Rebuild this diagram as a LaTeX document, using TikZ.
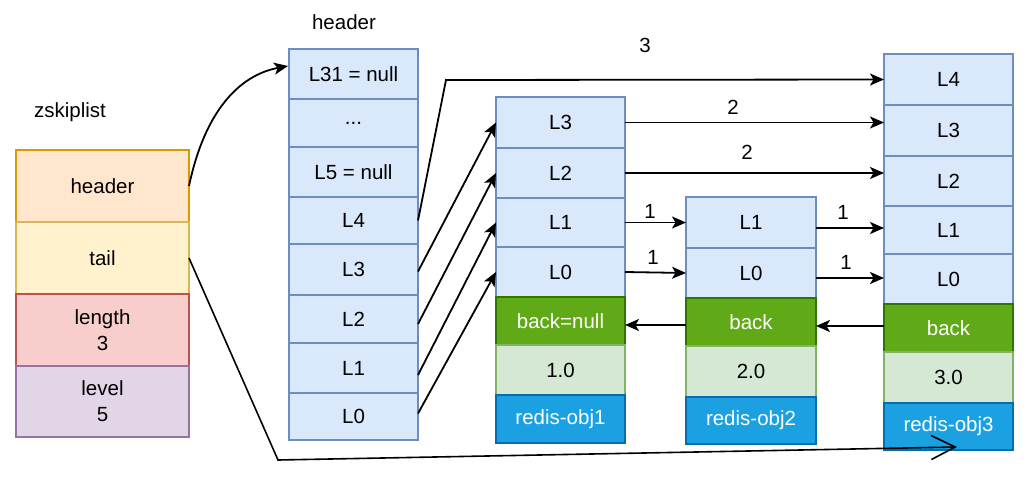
\documentclass[tikz,border=0pt]{standalone}
\usepackage{fontspec}
\setmainfont{Liberation Sans}
\usetikzlibrary{arrows.meta,calc}
\definecolor{hdrF}{HTML}{FFE6CC}\definecolor{hdrD}{HTML}{D79B00}
\definecolor{tailF}{HTML}{FFF2CC}\definecolor{tailD}{HTML}{D6B656}
\definecolor{lenF}{HTML}{F8CECC}\definecolor{lenD}{HTML}{B85450}
\definecolor{lvlF}{HTML}{E1D5E7}\definecolor{lvlD}{HTML}{9673A6}
\definecolor{levF}{HTML}{DAE8FC}\definecolor{levD}{HTML}{6C8EBF}
\definecolor{backF}{HTML}{60A917}\definecolor{backD}{HTML}{2D7600}
\definecolor{valF}{HTML}{D5E8D4}\definecolor{valD}{HTML}{82B366}
\definecolor{objF}{HTML}{1BA1E2}\definecolor{objD}{HTML}{006EAF}
\tikzset{
  cell/.style={draw, line width=1.5pt, inner sep=0pt, outer sep=0pt, align=center,
    font=\fontsize{20.5}{24}\selectfont},
  zhdr/.style={cell, fill=hdrF, draw=hdrD, minimum width=173pt, minimum height=72pt},
  ztail/.style={cell, fill=tailF, draw=tailD, minimum width=173pt, minimum height=72pt},
  zlen/.style={cell, fill=lenF, draw=lenD, minimum width=173pt, minimum height=72pt},
  zlvl/.style={cell, fill=lvlF, draw=lvlD, minimum width=173pt, minimum height=71pt},
  lev/.style={cell, fill=levF, draw=levD},
  backc/.style={cell, fill=backF, draw=backD, text=white},
  valc/.style={cell, fill=valF, draw=valD},
  objc/.style={cell, fill=objF, draw=objD, text=white},
  lbl/.style={inner sep=0pt, font=\fontsize{20.5}{24}\selectfont},
  arr/.style={draw, line width=1.8pt, -{Stealth[length=14pt,width=12pt,inset=3.5pt]}},
}
\begin{document}
\begin{tikzpicture}[x=1pt,y=-1pt]
\useasboundingbox (0,0) rectangle (1033,482);
% labels
\node[lbl] (lzs) at (70,112) {zskiplist};
\node[lbl] (lhd) at (344,22) {header};
% zskiplist
\node[zhdr]  (zheader) at (102.5,186) {header};
\node[ztail] (ztailn)  at (102.5,258) {tail};
\node[zlen]  (zlength) at (102.5,330) {length\\[2pt]3};
\node[zlvl]  (zlevel)  at (102.5,401.5) {level\\[2pt]5};
% header column
\begin{scope}[every node/.append style={lev, minimum width=129pt}]
\node[minimum height=50pt] (hL31) at (353.5,74) {L31 = null};
\node[minimum height=48pt] (hdots) at (353.5,123) {...};
\node[minimum height=50pt] (hL5) at (353.5,172) {L5 = null};
\node[minimum height=47pt] (hL4) at (353.5,220.5) {L4};
\node[minimum height=51pt] (hL3) at (353.5,269.5) {L3};
\node[minimum height=48pt] (hL2) at (353.5,319) {L2};
\node[minimum height=50pt] (hL1) at (353.5,368) {L1};
\node[minimum height=47pt] (hL0) at (353.5,416.5) {L0};
\end{scope}
% node 1
\begin{scope}[every node/.append style={minimum width=129pt}]
\node[lev, minimum height=51pt] (aL3) at (560.5,122.5) {L3};
\node[lev, minimum height=50pt] (aL2) at (560.5,173) {L2};
\node[lev, minimum height=49pt] (aL1) at (560.5,222.5) {L1};
\node[lev, minimum height=50pt] (aL0) at (560.5,272) {L0};
\node[backc, minimum height=48pt] (aback) at (560.5,321) {back=null};
\node[valc, minimum height=50pt] (aval) at (560.5,370) {1.0};
\node[objc, minimum height=48pt] (aobj) at (560.5,419) {redis-obj1};
\end{scope}
% node 2
\begin{scope}[every node/.append style={minimum width=130pt}]
\node[lev, minimum height=51pt] (bL1) at (751,222.5) {L1};
\node[lev, minimum height=50pt] (bL0) at (751,273) {L0};
\node[backc, minimum height=48pt] (bback) at (751,322) {back};
\node[valc, minimum height=51pt] (bval) at (751,371.5) {2.0};
\node[objc, minimum height=47pt] (bobj) at (751,420.5) {redis-obj2};
\end{scope}
% node 3
\begin{scope}[every node/.append style={minimum width=129pt}]
\node[lev, minimum height=51pt] (cL4) at (948.5,79.5) {L4};
\node[lev, minimum height=51pt] (cL3) at (948.5,130.5) {L3};
\node[lev, minimum height=50pt] (cL2) at (948.5,181) {L2};
\node[lev, minimum height=48pt] (cL1) at (948.5,230) {L1};
\node[lev, minimum height=50pt] (cL0) at (948.5,279) {L0};
\node[backc, minimum height=48pt] (cback) at (948.5,328) {back};
\node[valc, minimum height=51pt] (cval) at (948.5,377.5) {3.0};
\node[objc, minimum height=47pt] (cobj) at (948.5,426.5) {redis-obj3};
\end{scope}
% helper coordinates
\coordinate (l4bend) at (446,80);
\coordinate (tailbend) at (278,460);
\coordinate (tailend) at (957,447);
% connectors
\draw[arr] (zheader.east) .. controls (205,110) and (240,75) .. ($(hL31.west)+(-1,-8)$);
\draw[line width=1.6pt, -{Straight Barb[length=24pt,width=24pt,line width=1.6pt]}]
  (ztailn.east) -- (tailbend) -- (tailend);
\draw[arr] (hL4.east) -- (l4bend) -- (cL4.west);
\draw[arr] ($(hL3.east)+(0,2)$) -- (aL3.west);
\draw[arr] ($(hL2.east)+(0,5)$) -- (aL2.west);
\draw[arr] ($(hL1.east)+(0,7)$) -- (aL1.west);
\draw[arr] ($(hL0.east)+(0,-3)$) -- (aL0.west);
\draw[arr] (aL3.east) -- (aL3.east -| cL3.west);
\draw[arr] (aL2.east) -- (aL2.east -| cL2.west);
\draw[arr] (aL1.east) -- (bL1.west);
\draw[arr] (aL0.east) -- (bL0.west);
\draw[arr] ($(cL1.west -| bL1.east)+(0,-2)$) -- ($(cL1.west)+(0,-2)$);
\draw[arr] ($(cL0.west -| bL0.east)+(0,-1)$) -- ($(cL0.west)+(0,-1)$);
\draw[arr] ($(bback.west)+(0,3)$) -- ($(bback.west -| aback.east)+(0,3)$);
\draw[arr] ($(cback.west)+(0,-2)$) -- ($(cback.west -| bback.east)+(0,-2)$);
% weights
\node[lbl] (w3) at (645,45) {3};
\node[lbl] (w2a) at (733,107) {2};
\node[lbl] (w2b) at (747,152) {2};
\node[lbl] (w1a) at (650,211) {1};
\node[lbl] (w1b) at (653,257) {1};
\node[lbl] (w1c) at (843,212) {1};
\node[lbl] (w1d) at (846,262) {1};
\end{tikzpicture}
\end{document}
